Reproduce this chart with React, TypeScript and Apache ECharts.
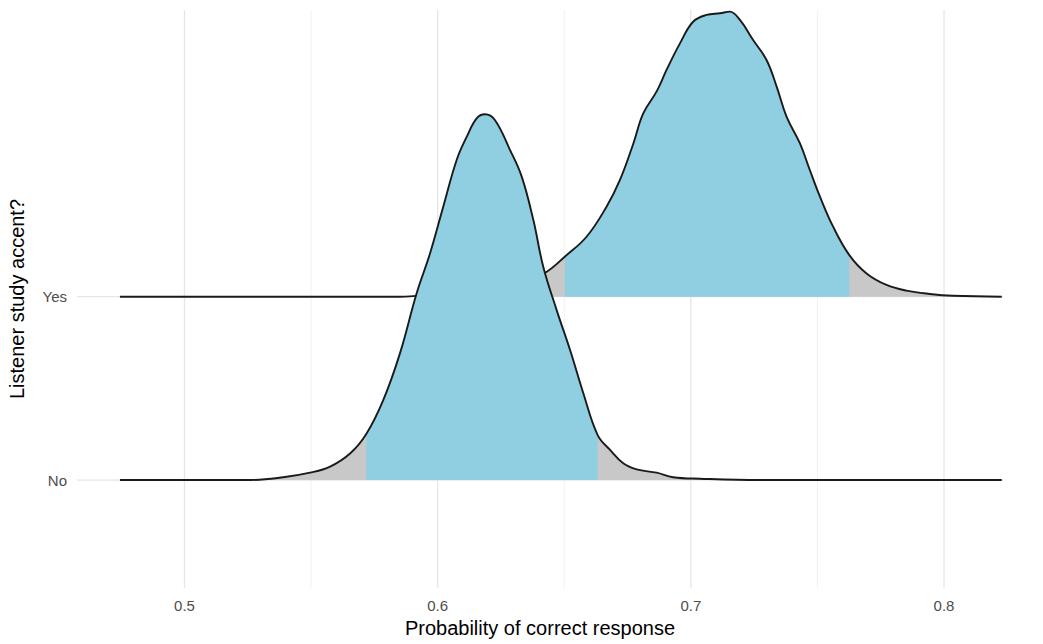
import React, { useEffect, useRef } from "react";
import * as echarts from "echarts";

// Ridge rows (bottom to top) and their baselines on the value axis
const rows = ["No", "Yes"];
const baselines = [0, 1];

// "No" posterior density: x values and ridge heights (in row units)
const noX = [0.4745, 0.5259, 0.539, 0.5496, 0.5575, 0.5655, 0.5718, 0.5785, 0.5851, 0.5917, 0.597, 0.6022, 0.6075, 0.6115, 0.6154, 0.6187, 0.6226, 0.6286, 0.6332, 0.6378, 0.6417, 0.647, 0.6523, 0.6575, 0.6632, 0.6681, 0.6733, 0.6786, 0.6865, 0.693, 0.7036, 0.7273, 0.8228];
const noH = [0, 0, 0.015, 0.04, 0.073, 0.146, 0.251, 0.436, 0.691, 1.019, 1.237, 1.491, 1.746, 1.873, 1.973, 1.995, 1.964, 1.8, 1.655, 1.418, 1.164, 0.927, 0.709, 0.475, 0.245, 0.164, 0.091, 0.058, 0.04, 0.015, 0.007, 0, 0];

// "Yes" posterior density
const yesX = [0.4745, 0.5851, 0.5902, 0.6048, 0.6167, 0.6286, 0.6364, 0.6431, 0.6502, 0.6588, 0.6667, 0.672, 0.6773, 0.6812, 0.6865, 0.6904, 0.6957, 0.7009, 0.7062, 0.7115, 0.7154, 0.7194, 0.7246, 0.7299, 0.7339, 0.7378, 0.7431, 0.747, 0.751, 0.7562, 0.7626, 0.7694, 0.7773, 0.7852, 0.7944, 0.8036, 0.8228];
const yesH = [0, 0, 0.003, 0.016, 0.033, 0.06, 0.093, 0.136, 0.218, 0.327, 0.491, 0.637, 0.836, 1.0, 1.12, 1.237, 1.382, 1.5, 1.537, 1.546, 1.555, 1.51, 1.4, 1.291, 1.146, 0.982, 0.836, 0.691, 0.546, 0.382, 0.227, 0.127, 0.064, 0.033, 0.015, 0.005, 0];

// Highlighted (credible) intervals
const noInterval = [0.5718, 0.6632];
const yesInterval = [0.6502, 0.7626];

// Axis ticks
const xTicks = [0.5, 0.6, 0.7, 0.8];
const xMinorTicks = [0.55, 0.65, 0.75];

const X_MIN = 0.45754;
const X_MAX = 0.8233;
const Y_MIN = -0.589;
const Y_MAX = 2.564;

const BLUE = "#8fcfe1";
const GREY = "#c8c8c8";
const INK = "#1a1a1a";
const FONT = "Liberation Sans, Arial, Helvetica, sans-serif";

function ridgeSeries(xs: number[], hs: number[], base: number, interval: number[], name: string, z0: number) {
  const full = xs.map((x, i) => [x, base + hs[i]]);
  const inner = full.filter((p) => p[0] >= interval[0] - 1e-9 && p[0] <= interval[1] + 1e-9);
  const common = {
    type: "line" as const,
    showSymbol: false,
    symbol: "none",
    smooth: 0.4,
    silent: true,
  };
  return [
    {
      ...common,
      name: name + "-tail",
      z: z0,
      data: full,
      lineStyle: { width: 0, opacity: 0 },
      areaStyle: { color: GREY, opacity: 1, origin: base },
    },
    {
      ...common,
      name: name + "-ci",
      z: z0 + 1,
      data: inner,
      lineStyle: { width: 0, opacity: 0 },
      areaStyle: { color: BLUE, opacity: 1, origin: base },
    },
    {
      ...common,
      name: name + "-line",
      z: z0 + 2,
      data: full,
      lineStyle: { width: 1.9, color: INK },
    },
  ];
}

function gridSeries(data: number[][], color: string, width: number) {
  return {
    type: "line" as const,
    data,
    symbol: "none",
    showSymbol: false,
    silent: true,
    z: 1,
    lineStyle: { color, width },
  };
}

export default function App() {
  const ref = useRef<HTMLDivElement>(null);

  useEffect(() => {
    if (!ref.current) return;
    const chart = echarts.init(ref.current, null, { renderer: "svg" });

    const series: any[] = [
      ...xTicks.map((v) => gridSeries([[v, Y_MIN], [v, Y_MAX]], "#e6e6e6", 1.3)),
      ...xMinorTicks.map((v) => gridSeries([[v, Y_MIN], [v, Y_MAX]], "#f1f1f1", 1)),
      ...baselines.map((b) => gridSeries([[X_MIN, b], [X_MAX, b]], "#e6e6e6", 1.3)),
      ...ridgeSeries(yesX, yesH, baselines[1], yesInterval, "Yes", 2),
      ...ridgeSeries(noX, noH, baselines[0], noInterval, "No", 5),
    ];

    chart.setOption({
      animation: false,
      backgroundColor: "#ffffff",
      grid: { left: 77, right: 40, top: 10, bottom: 56, containLabel: false, outerBoundsMode: "none" },
      xAxis: {
        type: "value",
        min: X_MIN,
        max: X_MAX,
        axisLine: { show: false },
        axisTick: { show: false },
        splitLine: { show: false },
        axisLabel: {
          customValues: xTicks,
          formatter: (v: number) => v.toFixed(1),
          color: "#4d4d4d",
          fontSize: 15,
          fontFamily: FONT,
          margin: 10,
        },
        name: "Probability of correct response",
        nameLocation: "middle",
        nameGap: 30,
        nameTextStyle: { color: "#000000", fontSize: 20, fontFamily: FONT },
      },
      yAxis: {
        type: "value",
        min: Y_MIN,
        max: Y_MAX,
        axisLine: { show: false },
        axisTick: { show: false },
        splitLine: { show: false },
        axisLabel: {
          customValues: baselines,
          formatter: (v: number) => rows[baselines.indexOf(Math.round(v))] ?? "",
          color: "#4d4d4d",
          fontSize: 15,
          fontFamily: FONT,
          margin: 10,
        },
        name: "Listener study accent?",
        nameLocation: "middle",
        nameRotate: 90,
        nameGap: 50,
        nameTextStyle: { color: "#000000", fontSize: 20, fontFamily: FONT },
      },
      series,
    });

    return () => chart.dispose();
  }, []);

  return (
    <div
      ref={ref}
      style={{ position: "fixed", left: 0, top: 0, width: 1043, height: 644, background: "#fff" }}
    />
  );
}
